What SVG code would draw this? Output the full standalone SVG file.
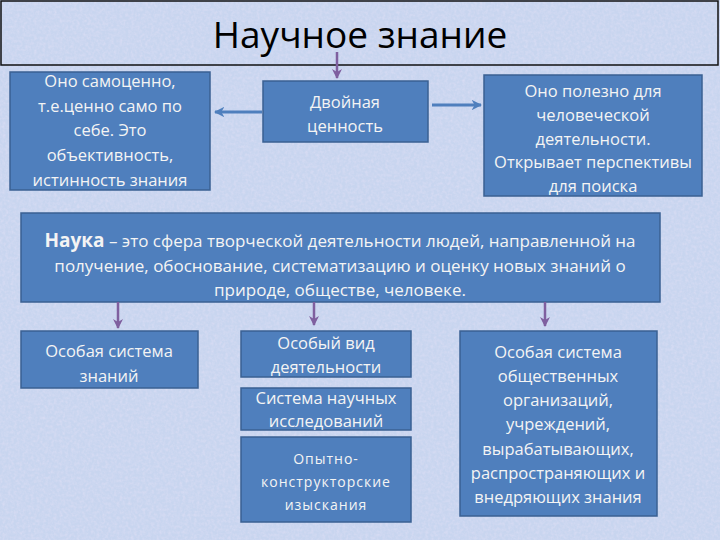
<svg xmlns="http://www.w3.org/2000/svg" width="720" height="540" viewBox="0 0 720 540">
<defs>
<filter id="tex" x="0" y="0" width="100%" height="100%">
<feTurbulence type="fractalNoise" baseFrequency="0.35" numOctaves="2" seed="3" result="n"/>
<feColorMatrix in="n" type="matrix" values="0 0 0 0 0.88  0 0 0 0 0.80  0 0 0 0 0.96  1.2 -0.6 0 0 -0.1" result="c"/>
<feComposite in="c" in2="SourceGraphic" operator="in"/>
</filter>
<marker id="pa" viewBox="0 0 10 10" refX="9" refY="5" markerWidth="4" markerHeight="4" orient="auto" markerUnits="strokeWidth"><path d="M0,0 L10,5 L0,10 L3,5 z" fill="#7f5f9f"/></marker>
<marker id="ba" viewBox="0 0 10 10" refX="9" refY="5" markerWidth="3.5" markerHeight="3.5" orient="auto" markerUnits="strokeWidth"><path d="M0,0 L10,5 L0,10 L3,5 z" fill="#4f7fbd"/></marker>
</defs>
<style>
.box{fill:#4f7fbd;stroke:#3a6093;stroke-width:1.5}
.t{font-family:"Open Sans","Liberation Sans",sans-serif;font-size:16.5px;fill:#f4f4f4;text-anchor:middle}
.n{font-size:17px}
.s{font-size:14px;letter-spacing:1px}
.pa{stroke:#7f5f9f;stroke-width:2.5;fill:none;marker-end:url(#pa)}
.ba{stroke:#4f7fbd;stroke-width:3;fill:none;marker-end:url(#ba)}
</style>
<rect width="720" height="540" fill="#c8d5ef"/>
<rect width="720" height="540" fill="#ffffff" filter="url(#tex)" opacity="0.45"/>
<g id="title">
<rect x="1" y="1" width="717" height="64" fill="none" stroke="#111" stroke-width="1.5"/>
<text x="360" y="48" font-family="Open Sans, Liberation Sans, sans-serif" font-size="37" fill="#000" text-anchor="middle">Научное знание</text>
</g>
<g id="left">
<rect class="box" x="10" y="72" width="200" height="118"/>
<text class="t" x="110" y="87">Оно самоценно,</text>
<text class="t" x="110" y="112">т.е.ценно само по</text>
<text class="t" x="110" y="136">себе. Это</text>
<text class="t" x="110" y="161">объективность,</text>
<text class="t" x="110" y="186">истинность знания</text>
</g>
<g id="double">
<rect class="box" x="263" y="81" width="165" height="61"/>
<text class="t" x="345" y="108">Двойная</text>
<text class="t" x="345" y="132">ценность</text>
</g>
<g id="right">
<rect class="box" x="484" y="75" width="218" height="121"/>
<text class="t" x="593" y="97">Оно полезно для</text>
<text class="t" x="593" y="121">человеческой</text>
<text class="t" x="593" y="145">деятельности.</text>
<text class="t" x="593" y="168">Открывает перспективы</text>
<text class="t" x="593" y="192">для поиска</text>
</g>
<g id="nauka">
<rect class="box" x="21" y="213" width="639" height="89"/>
<text class="t n" x="340" y="247"><tspan font-weight="bold" font-size="19">Наука</tspan> – это сфера творческой деятельности людей, направленной на</text>
<text class="t n" x="340" y="272">получение, обоснование, систематизацию и оценку новых знаний о</text>
<text class="t n" x="340" y="296">природе, обществе, человеке.</text>
</g>
<g id="b1">
<rect class="box" x="21" y="331" width="177" height="57"/>
<text class="t" x="109" y="357">Особая система</text>
<text class="t" x="109" y="382">знаний</text>
</g>
<g id="b2">
<rect class="box" x="241" y="331" width="170" height="46"/>
<text class="t" x="326" y="349">Особый вид</text>
<text class="t" x="326" y="373">деятельности</text>
</g>
<g id="b3">
<rect class="box" x="241" y="388" width="170" height="42"/>
<text class="t" x="326" y="404">Система научных</text>
<text class="t" x="326" y="427">исследований</text>
</g>
<g id="b4">
<rect class="box" x="241" y="437" width="170" height="85"/>
<text class="t s" x="326" y="464">Опытно-</text>
<text class="t s" x="326" y="487">конструкторские</text>
<text class="t s" x="326" y="510">изыскания</text>
</g>
<g id="b5">
<rect class="box" x="460" y="331" width="197" height="185"/>
<text class="t" x="558" y="358">Особая система</text>
<text class="t" x="558" y="382">общественных</text>
<text class="t" x="558" y="406">организаций,</text>
<text class="t" x="558" y="430">учреждений,</text>
<text class="t" x="558" y="455">вырабатывающих,</text>
<text class="t" x="558" y="479">распространяющих и</text>
<text class="t" x="558" y="503">внедряющих знания</text>
</g>
<g id="connectors">
<line class="pa" x1="337" y1="52" x2="337" y2="78"/>
<line class="ba" x1="262" y1="112" x2="215" y2="112"/>
<line class="ba" x1="432" y1="105" x2="481" y2="105"/>
<line class="pa" x1="118" y1="302" x2="118" y2="328"/>
<line class="pa" x1="314" y1="302" x2="314" y2="325"/>
<line class="pa" x1="545" y1="302" x2="545" y2="326"/>
</g>
</svg>
